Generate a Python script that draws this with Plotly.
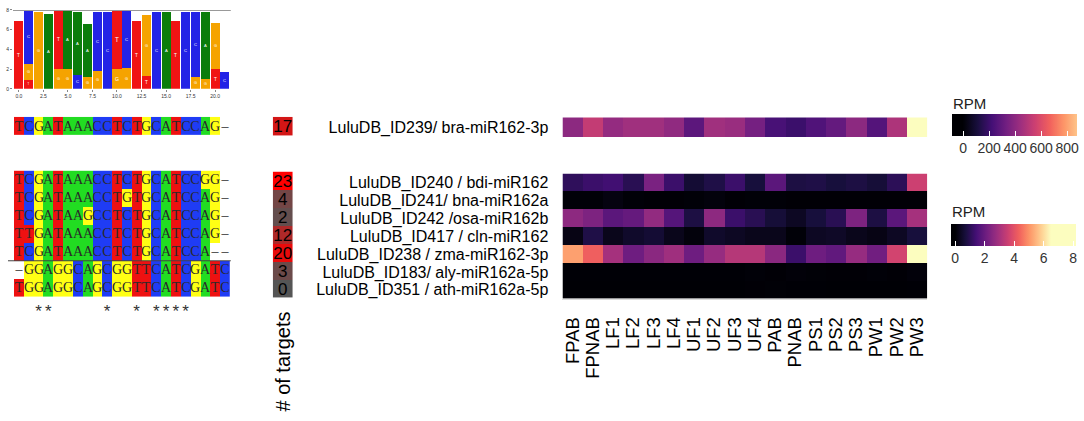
import plotly.graph_objects as go
from plotly.colors import sample_colorscale

W, H = 1084, 421
FONT = "Liberation Sans, Arial, sans-serif"
SERIF = "Liberation Serif, DejaVu Serif, serif"

# ---------------- data ----------------
logo_positions = list(range(22))
# letters of each logo column, bottom to top
logo_letters = ["T", "TGC", "G", "A", "GT", "GA", "CA", "GA", "GC", "C", "GT",
                "GC", "T", "TG", "C", "A", "T", "C", "GC", "GA", "TG", "C"]
logo_heights = [[6.9], [0.9, 1.6, 5.5], [7.8], [7.6], [2.0, 6.0], [2.0, 6.0],
                [1.4, 6.4], [1.2, 5.4], [1.8, 6.0], [7.8], [2.0, 5.9], [2.1, 5.8],
                [6.9], [1.3, 6.2], [7.8], [7.8], [6.9], [7.8], [1.2, 6.6],
                [1.0, 6.8], [2.0, 4.7], [1.7]]
logo_xticks = [0.0, 2.5, 5.0, 7.5, 10.0, 12.5, 15.0, 17.5, 20.0]
logo_yticks = [0, 2, 4, 6, 8]

align_top = ["TCGATAAACCTCTGCATCCAG-"]
align_main = ["TCGATAAACCTCTGCATCCGG-",
              "TCGATAAACCTGTGCATCCAG-",
              "TCGATAAGCCTCTGCATCCAG-",
              "TTGATAAACCTCTGCATCCAG-",
              "TCGATAAACCTCTGCATCCA--",
              "-GGAGGCAGCGGTTCATCGATC",
              "TGGAGGCAGCGGTTCATCGATC"]

mirna_top = ["LuluDB_ID239/ bra-miR162-3p"]
mirna_main = ["LuluDB_ID240 / bdi-miR162",
              "LuluDB_ID241/ bna-miR162a",
              "LuluDB_ID242 /osa-miR162b",
              "LuluDB_ID417 / cln-miR162",
              "LuluDB_ID238 / zma-miR162-3p",
              "LuluDB_ID183/ aly-miR162a-5p",
              "LuluDB_ID351 / ath-miR162a-5p"]
targets_top = [17]
targets_main = [23, 4, 2, 12, 20, 3, 0]

samples = ["FPAB", "FPNAB", "LF1", "LF2", "LF3", "LF4", "UF1", "UF2", "UF3",
           "UF4", "PAB", "PNAB", "PS1", "PS2", "PS3", "PW1", "PW2", "PW3"]
rpm_top = [[400, 530, 420, 450, 450, 410, 280, 450, 430, 340, 230, 200, 250,
            300, 400, 260, 480, 1000]]
rpm_main = [
    [1.1, 1.3, 1.4, 1.0, 2.3, 1.3, 0.6, 0.85, 1.3, 0.7, 1.8, 0.8, 0.85, 0.7, 0.8, 0.65, 1.05, 3.6],
    [0.05, 0.05, 0.15, 0.05, 0.03, 0.03, 0.05, 0.1, 0.03, 0.05, 0.05, 0.03, 0.03, 0.03, 0.03, 0.03, 0.03, 0.03],
    [2.6, 2.35, 1.8, 1.95, 2.7, 1.7, 0.8, 2.6, 1.3, 1.0, 0.65, 0.4, 0.7, 1.0, 2.35, 0.8, 1.8, 3.0],
    [0.2, 0.85, 0.3, 0.5, 0.6, 0.3, 0.1, 0.5, 0.4, 0.3, 0.3, 0.05, 0.4, 0.45, 0.3, 0.2, 0.4, 0.7],
    [5.2, 4.3, 3.0, 2.1, 2.55, 2.9, 2.1, 2.75, 3.25, 3.25, 2.55, 1.3, 2.1, 1.9, 2.75, 2.15, 3.7, 7.5],
    [0.02, 0.02, 0.02, 0.02, 0.02, 0.02, 0.02, 0.02, 0.02, 0.05, 0.03, 0.06, 0.04, 0.03, 0.03, 0.05, 0.03, 0.08],
    [0.01, 0.01, 0.01, 0.01, 0.01, 0.01, 0.01, 0.01, 0.01, 0.03, 0.04, 0.02, 0.02, 0.01, 0.01, 0.01, 0.01, 0.02],
]
rpm_top_ticks = [0, 200, 400, 600, 800]
rpm_main_ticks = [0, 2, 4, 6, 8]

# ---------------- styles / helpers ----------------
LOGO_COL = {"A": "#0b7d0b", "C": "#2323e6", "G": "#f5a300", "T": "#f01414"}
NUC_CODE = {"A": 0, "C": 1, "G": 2, "T": 3, "-": 4}
ALN_SCALE = [[0, "#22dc22"], [0.125, "#22dc22"], [0.125, "#1f3cf5"], [0.375, "#1f3cf5"],
             [0.375, "#ffff14"], [0.625, "#ffff14"], [0.625, "#ee1111"], [0.875, "#ee1111"],
             [0.875, "#ffffff"], [1, "#ffffff"]]


def dom_x(a, b):
    return [a / W, b / W]


def dom_y(top, bottom):
    return [1 - bottom / H, 1 - top / H]


def magma_scale(lo, hi, sat):
    stops = []
    n = 60
    for i in range(n + 1):
        f = i / n
        v = lo + f * (hi - lo)
        m = min(max(v / sat, 0.0), 1.0)
        stops.append([f, sample_colorscale("Magma", [m])[0]])
    return stops


fig = go.Figure()

# ---- sequence logo (stacked bars) ----
for k in range(3):
    xs, ys, cols, txt = [], [], [], []
    for i, (letters, heights) in enumerate(zip(logo_letters, logo_heights)):
        if k < len(letters):
            xs.append(logo_positions[i])
            ys.append(heights[k])
            cols.append(LOGO_COL[letters[k]])
            txt.append(letters[k])
    fig.add_trace(go.Bar(
        x=xs, y=ys, marker=dict(color=cols, line=dict(width=0)), text=txt,
        textposition="inside", insidetextanchor="middle", textangle=0,
        textfont=dict(color="white", size=11, family=FONT), width=0.92,
        xaxis="x", yaxis="y", hoverinfo="skip", showlegend=False))


def aln_trace(seqs, xa, ya):
    z = [[NUC_CODE[c] for c in s] for s in seqs]
    t = [["\u2013" if c == "-" else c for c in s] for s in seqs]
    return go.Heatmap(z=z, text=t, texttemplate="%{text}", x=list(range(len(seqs[0]))),
                      y=list(range(len(seqs))),
                      textfont=dict(family=SERIF, size=14, color="#2a2a2a"),
                      colorscale=ALN_SCALE, zmin=0, zmax=4, showscale=False,
                      xaxis=xa, yaxis=ya, hoverinfo="skip")


fig.add_trace(aln_trace(align_top, "x2", "y2"))
fig.add_trace(aln_trace(align_main, "x3", "y3"))

# conservation stars (columns identical in all sequences)
n_cols = len(align_main[0])
star_cols = [j for j in range(n_cols)
             if len({s[j] for s in align_main}) == 1 and align_main[0][j] != "-"]
fig.add_trace(go.Scatter(x=star_cols, y=[len(align_main) + 0.4] * len(star_cols), mode="text",
                         text=["*"] * len(star_cols), textposition="middle center",
                         textfont=dict(size=17, color="#333333", family=FONT),
                         xaxis="x3", yaxis="y3", hoverinfo="skip", showlegend=False))

# ---- number of targets ----
TG_SCALE = [[0, "#555555"], [1, "#ff0000"]]
tmax = max(targets_main + targets_top)
for vals, xa, ya in [(targets_top, "x4", "y4"), (targets_main, "x5", "y5")]:
    fig.add_trace(go.Heatmap(z=[[v] for v in vals], x=[0], y=list(range(len(vals))),
                             texttemplate="%{z}", textfont=dict(size=17, color="black", family=FONT),
                             colorscale=TG_SCALE, zmin=0, zmax=tmax, showscale=False,
                             xaxis=xa, yaxis=ya, hoverinfo="skip"))

# ---- expression heatmaps ----
fig.add_trace(go.Heatmap(z=rpm_top, x=samples, y=mirna_top, colorscale=magma_scale(0, 1000, 1000),
                         zmin=0, zmax=1000, showscale=False, xaxis="x6", yaxis="y6",
                         hoverinfo="skip"))

cb_common = dict(orientation="h", lenmode="pixels", len=125, thickness=22, xanchor="center",
                 yanchor="top", ticks="inside", tickcolor="white", ticklen=5, tickwidth=1,
                 outlinewidth=0, xpad=0, ypad=0,
                 tickfont=dict(size=14, color="#333333", family=FONT))

lo1, hi1 = -85, 877
fig.add_trace(go.Scatter(
    x=[None], y=[None], mode="markers", xaxis="x6", yaxis="y6", hoverinfo="skip", showlegend=False,
    marker=dict(color=[0], cmin=lo1, cmax=hi1, colorscale=magma_scale(lo1, hi1, 1000), showscale=True,
                colorbar=dict(**cb_common, x=1014.5 / W, y=1 - 113 / H, tickvals=rpm_top_ticks))))

lo2, hi2 = -0.27, 8.2
fig.add_trace(go.Heatmap(z=rpm_main, x=samples, y=mirna_main, colorscale=magma_scale(lo2, hi2, 6.5),
                         zmin=lo2, zmax=hi2, xaxis="x7", yaxis="y7", hoverinfo="skip",
                         showscale=True,
                         colorbar=dict(**cb_common, x=1013.5 / W, y=1 - 224 / H,
                                       tickvals=rpm_main_ticks)))

hidden = dict(visible=False, showgrid=False, zeroline=False)
lab_font = dict(size=16, color="black", family=FONT)

fig.update_layout(
    width=W, height=H, margin=dict(l=0, r=0, t=0, b=0),
    paper_bgcolor="white", plot_bgcolor="white", barmode="stack", bargap=0,
    showlegend=False, font=dict(family=FONT, color="black"),
    xaxis=dict(domain=dom_x(12, 230), range=[-0.6, 21.6], tickvals=logo_xticks,
               ticktext=[f"{t:.1f}" for t in logo_xticks], tickfont=dict(size=5, color="#333"),
               ticks="outside", ticklen=2, tickcolor="#888", showgrid=False, zeroline=False, anchor="y"),
    yaxis=dict(domain=dom_y(7, 87), range=[0, 8], tickvals=logo_yticks,
               tickfont=dict(size=5, color="#333"), ticks="outside", ticklen=2, tickcolor="#888",
               showgrid=False, zeroline=False, anchor="x"),
    xaxis2=dict(domain=dom_x(13, 229), range=[-0.5, 21.5], anchor="y2", **hidden),
    yaxis2=dict(domain=dom_y(115.5, 134), range=[0.5, -0.5], anchor="x2", **hidden),
    xaxis3=dict(domain=dom_x(13, 229), range=[-0.5, 21.5], anchor="y3", **hidden),
    yaxis3=dict(domain=dom_y(170, 170 + 8.5 * 18.3), range=[8.0, -0.5], anchor="x3", **hidden),
    xaxis4=dict(domain=dom_x(272, 292), range=[-0.5, 0.5], anchor="y4", **hidden),
    yaxis4=dict(domain=dom_y(115.5, 134.5), range=[0.5, -0.5], anchor="x4", **hidden),
    xaxis5=dict(domain=dom_x(272, 292), range=[-0.5, 0.5], anchor="y5", **hidden),
    yaxis5=dict(domain=dom_y(171, 299), range=[6.5, -0.5], anchor="x5", **hidden),
    xaxis6=dict(domain=dom_x(562, 927), anchor="y6", showticklabels=False, ticks="",
                showgrid=False, zeroline=False),
    yaxis6=dict(domain=dom_y(116, 136), anchor="x6", ticks="outside", ticklen=10,
                tickmode="array", tickvals=mirna_top,
                tickcolor="rgba(0,0,0,0)", tickfont=lab_font, showgrid=False, zeroline=False),
    xaxis7=dict(domain=dom_x(562, 927), anchor="y7", ticks="outside", ticklen=10,
                tickmode="array", tickvals=samples,
                tickcolor="rgba(0,0,0,0)", tickangle=-90, showline=True, linecolor="#dddddd",
                tickfont=dict(size=18.5, color="black", family=FONT), showgrid=False, zeroline=False),
    yaxis7=dict(domain=dom_y(173, 300), anchor="x7", autorange="reversed", ticks="outside",
                tickmode="array", tickvals=mirna_main,
                ticklen=10, tickcolor="rgba(0,0,0,0)", tickfont=lab_font,
                showgrid=False, zeroline=False),
    annotations=[
        dict(text="# of targets", x=282 / W, y=1 - 364 / H, xref="paper", yref="paper",
             textangle=-90, showarrow=False, xanchor="center", yanchor="middle",
             font=dict(size=20, color="black", family=FONT)),
        dict(text="RPM", x=951 / W, y=1 - 102 / H, xref="paper", yref="paper", showarrow=False,
             xanchor="left", yanchor="middle", font=dict(size=15, color="#222", family=FONT)),
        dict(text="RPM", x=950 / W, y=1 - 212 / H, xref="paper", yref="paper", showarrow=False,
             xanchor="left", yanchor="middle", font=dict(size=15, color="#222", family=FONT)),
    ],
    shapes=[
        dict(type="line", xref="paper", yref="y3", x0=7 / W, x1=230 / W, y0=4.5, y1=4.5,
             line=dict(color="#444444", width=1)),
        dict(type="line", xref="x domain", yref="y", x0=0, x1=1, y0=8, y1=8,
             line=dict(color="#999999", width=2)),
    ],
)

fig.write_html("out.html", config={"displayModeBar": False},
               post_script="document.body.style.margin='0';")
